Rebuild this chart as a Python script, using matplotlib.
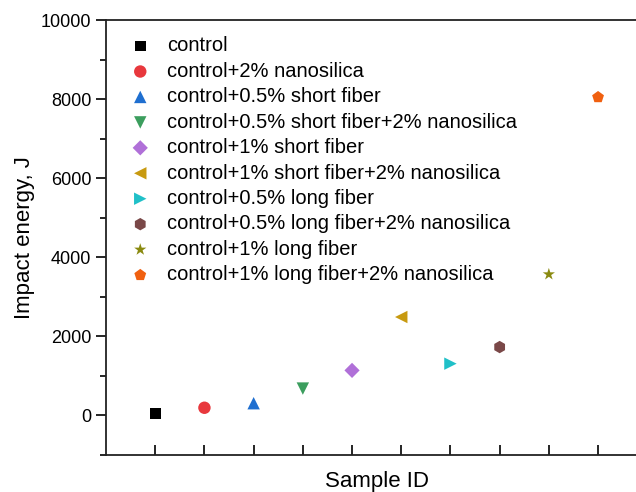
import matplotlib
matplotlib.use("Agg")
from matplotlib import pyplot as plt

plt.rcParams['font.family'] = ['Liberation Sans', 'DejaVu Sans']

labels = [
    "control",
    "control+2% nanosilica",
    "control+0.5% short fiber",
    "control+0.5% short fiber+2% nanosilica",
    "control+1% short fiber",
    "control+1% short fiber+2% nanosilica",
    "control+0.5% long fiber",
    "control+0.5% long fiber+2% nanosilica",
    "control+1% long fiber",
    "control+1% long fiber+2% nanosilica",
]
sampleIds = [1, 2, 3, 4, 5, 6, 7, 8, 9, 10]
impactEnergy = [50, 195, 310, 680, 1140, 2490, 1310, 1730, 3570, 8050]
colors = ['#000000', '#e8383d', '#1f6fd0', '#3c9e5e', '#b070d8',
          '#c89a10', '#20c0c8', '#7a4848', '#8a8a10', '#f06010']
markers = ['s', 'o', '^', 'v', 'D', '<', '>', 'h', '*', 'p']
sizes = [60, 80, 80, 80, 60, 80, 80, 80, 85, 80]

fig = plt.figure(figsize=(6.36, 4.92), dpi=100)
ax = fig.add_axes([0.1667, 0.0752, 0.851, 0.884])

for x, y, c, m, s, lab in zip(sampleIds, impactEnergy, colors, markers, sizes, labels):
    ax.scatter(x, y, color=c, marker=m, s=s, label=lab, edgecolors='none')

ax.set_xlim(0, 11)
ax.set_ylim(-1000, 10000)
ax.set_xticks(sampleIds)
ax.set_xticklabels([])
ax.set_yticks([0, 2000, 4000, 6000, 8000, 10000])
ax.set_yticks(range(-1000, 10000, 2000), minor=True)
ax.tick_params(axis='x', direction='in', length=7, width=1.2)
ax.tick_params(axis='y', which='major', direction='out', length=7, width=1.2, labelsize=13)
ax.tick_params(axis='y', which='minor', direction='out', length=4, width=1.2)
for side in ['left', 'bottom', 'top', 'right']:
    ax.spines[side].set_linewidth(1.3)
    ax.spines[side].set_color('#222222')

ax.set_ylabel("Impact energy, J", fontsize=16, labelpad=4)
ax.set_xlabel("Sample ID", fontsize=16, labelpad=8)

ax.legend(loc='upper left', bbox_to_anchor=(0.0, 0.995), frameon=False, fontsize=14.5,
          handletextpad=0.35, labelspacing=0.32, borderaxespad=0.3, scatterpoints=1)

fig.savefig("out.png", dpi=100)
